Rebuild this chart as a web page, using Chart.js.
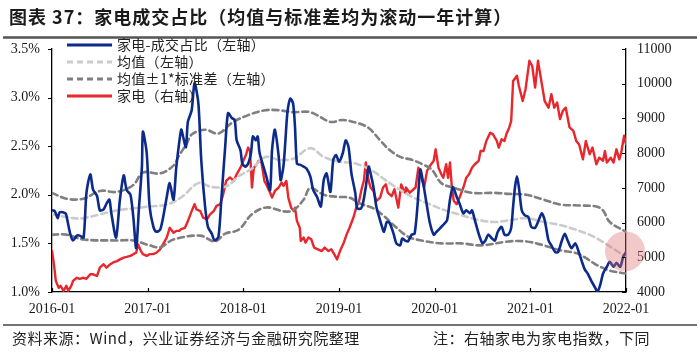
<!DOCTYPE html>
<html><head><meta charset="utf-8">
<script src="https://cdn.jsdelivr.net/npm/chart.js@4.4.1/dist/chart.umd.min.js"></script>
<style>html,body{margin:0;padding:0;background:#fff}canvas{display:block}</style>
</head><body>
<canvas id="c" width="700" height="355"></canvas>
<script>
const titleText = '图表 37：家电成交占比（均值与标准差均为滚动一年计算）';
const sourceText = '资料来源：Wind，兴业证券经济与金融研究院整理';
const noteText = '注：右轴家电为家电指数，下同';
const legendNames = ['家电-成交占比（左轴）', '均值（左轴）', '均值±1*标准差（左轴）', '家电（右轴）'];
const xTickLabels = ['2016-01','2017-01','2018-01','2019-01','2020-01','2021-01','2022-01'];

const shareX = [2016.01,2016.03,2016.06,2016.08,2016.14,2016.15,2016.19,2016.22,2016.26,2016.29,2016.33,2016.36,2016.40,2016.43,2016.47,2016.50,2016.54,2016.57,2016.60,2016.62,2016.67,2016.71,2016.75,2016.78,2016.82,2016.85,2016.88,2016.91,2016.94,2016.95,2016.99,2017.02,2017.06,2017.09,2017.13,2017.16,2017.20,2017.23,2017.27,2017.30,2017.35,2017.37,2017.40,2017.42,2017.46,2017.49,2017.53,2017.56,2017.60,2017.63,2017.67,2017.70,2017.74,2017.77,2017.81,2017.84,2017.88,2017.91,2017.93,2017.97,2017.99,2018.02,2018.05,2018.08,2018.10,2018.13,2018.15,2018.17,2018.21,2018.24,2018.28,2018.30,2018.33,2018.37,2018.39,2018.42,2018.44,2018.46,2018.49,2018.52,2018.54,2018.56,2018.59,2018.63,2018.66,2018.70,2018.73,2018.77,2018.81,2018.84,2018.87,2018.91,2018.94,2018.97,2019.00,2019.04,2019.07,2019.10,2019.13,2019.17,2019.19,2019.23,2019.25,2019.28,2019.31,2019.33,2019.36,2019.39,2019.42,2019.45,2019.47,2019.50,2019.53,2019.57,2019.60,2019.64,2019.66,2019.69,2019.72,2019.76,2019.79,2019.82,2019.85,2019.88,2019.92,2019.95,2019.99,2020.02,2020.06,2020.09,2020.13,2020.16,2020.19,2020.23,2020.26,2020.30,2020.33,2020.37,2020.39,2020.42,2020.46,2020.50,2020.53,2020.56,2020.60,2020.63,2020.66,2020.70,2020.73,2020.77,2020.80,2020.82,2020.84,2020.86,2020.88,2020.91,2020.94,2020.98,2021.01,2021.05,2021.08,2021.12,2021.15,2021.19,2021.22,2021.26,2021.29,2021.33,2021.36,2021.39,2021.43,2021.47,2021.50,2021.54,2021.57,2021.60,2021.64,2021.68,2021.70,2021.73,2021.76,2021.80,2021.83,2021.87,2021.90,2021.94,2021.97,2022.00];
const shareY = [1.84,1.83,1.76,1.82,1.81,1.79,1.60,1.53,1.58,1.58,1.56,2.02,2.21,2.05,1.99,1.84,1.85,1.91,1.95,1.81,1.56,1.95,2.20,2.05,2.00,1.77,1.45,1.88,2.29,2.65,2.43,1.88,1.67,1.62,1.64,1.76,1.98,2.12,1.95,2.29,2.67,2.60,2.49,2.75,2.87,3.15,2.94,2.36,1.88,1.67,1.60,1.53,1.57,1.95,2.49,2.84,2.79,2.77,2.56,2.46,2.32,2.29,2.32,2.43,2.60,2.56,2.60,2.43,2.29,2.19,2.05,2.46,2.67,2.39,2.15,2.30,2.56,2.84,2.99,2.94,2.70,2.32,2.31,2.29,2.27,2.19,2.05,1.98,1.88,2.15,2.22,2.03,2.36,2.41,2.34,2.43,2.56,2.49,2.22,2.02,1.86,1.86,1.91,2.08,2.29,2.22,2.08,1.88,1.77,1.67,1.62,1.72,1.71,1.60,1.50,1.48,1.55,1.53,1.52,1.59,1.60,1.88,2.26,2.12,1.88,1.71,1.59,1.62,1.66,1.69,1.74,1.95,2.08,1.98,1.91,1.81,1.84,1.81,1.84,1.74,1.60,1.50,1.53,1.59,1.55,1.53,1.62,1.67,1.59,1.59,1.66,1.88,2.08,2.19,2.08,1.84,1.79,1.77,1.67,1.66,1.72,1.81,1.74,1.53,1.48,1.41,1.41,1.53,1.60,1.53,1.45,1.50,1.43,1.31,1.23,1.19,1.11,1.04,1.00,1.07,1.19,1.26,1.31,1.26,1.30,1.26,1.36,1.41];

const meanX = [2016.00,2016.22,2016.33,2016.50,2016.68,2016.85,2017.02,2017.20,2017.36,2017.53,2017.67,2017.83,2017.95,2018.09,2018.23,2018.37,2018.52,2018.70,2018.84,2019.01,2019.18,2019.36,2019.53,2019.64,2019.76,2019.93,2020.11,2020.28,2020.46,2020.63,2020.79,2020.96,2021.14,2021.31,2021.48,2021.66,2021.83,2022.00];
const meanY = [1.80,1.76,1.76,1.80,1.84,1.86,1.88,1.90,1.98,2.12,2.08,2.09,2.19,2.27,2.39,2.36,2.37,2.48,2.39,2.34,2.32,2.24,2.12,2.05,1.98,1.91,1.84,1.79,1.74,1.72,1.74,1.76,1.72,1.69,1.64,1.57,1.47,1.36];

const upperX = [2016.00,2016.15,2016.33,2016.50,2016.68,2016.85,2016.95,2017.13,2017.27,2017.32,2017.41,2017.46,2017.60,2017.74,2017.88,2018.05,2018.23,2018.37,2018.52,2018.70,2018.91,2019.04,2019.22,2019.32,2019.43,2019.53,2019.64,2019.76,2019.86,2019.97,2020.07,2020.21,2020.39,2020.63,2020.77,2020.96,2021.14,2021.31,2021.52,2021.69,2021.76,2021.83,2022.00];
const upperY = [2.02,1.96,1.96,2.04,2.03,2.10,2.23,2.22,2.30,2.39,2.53,2.62,2.67,2.63,2.74,2.82,2.87,2.87,2.85,2.85,2.75,2.77,2.73,2.68,2.56,2.46,2.39,2.36,2.32,2.26,2.12,2.07,2.02,2.02,2.01,2.00,1.95,1.90,1.89,1.88,1.84,1.72,1.62];

const lowerX = [2016.00,2016.15,2016.33,2016.68,2016.85,2017.02,2017.13,2017.27,2017.55,2017.70,2017.81,2017.95,2018.09,2018.24,2018.42,2018.52,2018.63,2018.70,2018.84,2018.98,2019.11,2019.22,2019.36,2019.46,2019.57,2019.72,2019.86,2020.07,2020.28,2020.49,2020.77,2020.96,2021.14,2021.31,2021.48,2021.58,2021.69,2021.83,2022.00];
const lowerY = [1.59,1.59,1.54,1.53,1.53,1.48,1.46,1.54,1.58,1.52,1.60,1.64,1.80,1.87,1.83,1.84,1.95,2.07,2.00,1.98,1.97,1.91,1.86,1.79,1.69,1.57,1.53,1.50,1.50,1.48,1.52,1.52,1.48,1.43,1.40,1.35,1.28,1.22,1.19];

const indexX = [2016.00,2016.02,2016.04,2016.07,2016.09,2016.12,2016.15,2016.17,2016.20,2016.22,2016.26,2016.29,2016.33,2016.36,2016.40,2016.43,2016.47,2016.50,2016.54,2016.57,2016.61,2016.64,2016.68,2016.71,2016.75,2016.78,2016.82,2016.85,2016.88,2016.90,2016.93,2016.95,2016.99,2017.02,2017.06,2017.09,2017.13,2017.16,2017.20,2017.23,2017.27,2017.30,2017.33,2017.35,2017.39,2017.42,2017.46,2017.49,2017.51,2017.55,2017.58,2017.62,2017.65,2017.69,2017.72,2017.76,2017.79,2017.82,2017.86,2017.90,2017.93,2017.97,2018.00,2018.03,2018.05,2018.07,2018.09,2018.11,2018.14,2018.16,2018.19,2018.22,2018.24,2018.28,2018.30,2018.33,2018.37,2018.40,2018.42,2018.45,2018.47,2018.50,2018.53,2018.54,2018.56,2018.59,2018.60,2018.63,2018.65,2018.68,2018.71,2018.74,2018.78,2018.82,2018.85,2018.89,2018.92,2018.96,2018.98,2019.01,2019.05,2019.08,2019.11,2019.15,2019.18,2019.21,2019.24,2019.26,2019.28,2019.31,2019.33,2019.36,2019.39,2019.43,2019.46,2019.49,2019.51,2019.55,2019.58,2019.62,2019.65,2019.69,2019.70,2019.74,2019.78,2019.80,2019.83,2019.86,2019.89,2019.92,2019.95,2019.99,2020.01,2020.04,2020.07,2020.09,2020.12,2020.14,2020.16,2020.18,2020.20,2020.23,2020.26,2020.30,2020.33,2020.36,2020.39,2020.42,2020.46,2020.48,2020.51,2020.54,2020.58,2020.61,2020.65,2020.67,2020.70,2020.73,2020.75,2020.78,2020.80,2020.82,2020.86,2020.88,2020.92,2020.95,2020.99,2021.02,2021.05,2021.08,2021.12,2021.15,2021.19,2021.22,2021.25,2021.28,2021.31,2021.34,2021.37,2021.41,2021.45,2021.48,2021.51,2021.55,2021.58,2021.62,2021.65,2021.69,2021.72,2021.76,2021.78,2021.80,2021.84,2021.87,2021.90,2021.93,2021.95,2021.98,2022.00];
const indexY = [5180,4800,4320,4120,4180,4030,4180,4030,4170,4320,4410,4380,4410,4380,4510,4510,4460,4700,4800,4700,4800,4850,4890,4940,4990,5010,5040,5090,5130,5370,5180,5090,5040,5090,5090,5130,5230,5370,5570,5850,5710,5760,5760,5810,5850,6040,6330,6530,6380,6330,6140,6090,6230,6330,6480,6530,6820,7200,7300,7200,7390,7580,7780,7970,8160,8060,7010,7580,7680,7780,7730,7200,7100,6860,6720,6910,7010,7150,7060,7200,6720,6430,6330,6430,6050,5850,5470,5570,5420,5570,5520,5280,5230,5180,5280,5180,5230,5040,4940,5180,5420,5660,5850,6140,6430,6620,7010,7200,7730,7200,7010,6910,6620,6720,7010,7100,6860,6760,6960,6430,7100,6860,7010,6860,6960,7010,7580,7300,7010,7490,7630,7780,8110,7580,7390,7290,7680,7290,7730,7010,6620,6530,6720,7010,7290,7390,7580,7680,7780,8060,8060,8350,8590,8540,8350,8160,8400,8350,8550,8740,8930,10080,10230,9940,9500,9840,10660,10510,9890,10660,9990,9500,9310,9700,9310,9460,8980,9220,9310,8740,8640,8350,8250,7820,8350,7970,8160,7680,7870,7780,8060,7730,7870,7730,8110,7820,8010,8500,8260];

const highlight = {x: 2022.0, y: 1.42};

function pts(xs, ys){ return xs.map((x,i)=>({x:x, y:ys[i]})); }

const BLUE = '#0b2a8c', RED = '#e8262b', LGRAY = '#cbcbcb', DGRAY = '#7f7f7f';
const SERIF = '"Liberation Serif", "Times New Roman", serif';
const CJK = '"Noto Sans CJK SC", "Noto Sans", sans-serif';

const decor = {
  id: 'decor',
  afterDraw(chart){
    const ctx = chart.ctx;
    ctx.save();
    // title
    ctx.fillStyle = '#1a1a1a';
    ctx.font = 'bold 18px ' + CJK;
    ctx.textBaseline = 'middle'; ctx.textAlign = 'left';
    ctx.letterSpacing = '1px';
    ctx.fillText(titleText, 9, 17);
    ctx.letterSpacing = '0px';
    ctx.strokeStyle = '#555'; ctx.lineWidth = 2.5;
    ctx.beginPath(); ctx.moveTo(3, 37.5); ctx.lineTo(697, 37.5); ctx.stroke();
    // footer
    ctx.strokeStyle = '#444'; ctx.lineWidth = 1.5;
    ctx.beginPath(); ctx.moveTo(3, 325); ctx.lineTo(697, 325); ctx.stroke();
    ctx.fillStyle = '#222'; ctx.font = '15px ' + CJK;
    ctx.letterSpacing = '0.5px';
    ctx.fillText(sourceText, 12, 338);
    ctx.fillText(noteText, 433, 338);
    ctx.letterSpacing = '0px';
    // custom tick marks
    const xs = chart.scales.x, yl = chart.scales.y, yr = chart.scales.y2;
    ctx.strokeStyle = '#000'; ctx.lineWidth = 1.2;
    ctx.beginPath();
    xs.ticks.forEach(t=>{ const px = Math.round(xs.getPixelForValue(t.value))+0.5; ctx.moveTo(px, xs.top); ctx.lineTo(px, xs.top-4); });
    yl.ticks.forEach(t=>{ const py = Math.round(yl.getPixelForValue(t.value))+0.5; ctx.moveTo(yl.right, py); ctx.lineTo(yl.right-4, py); });
    yr.ticks.forEach(t=>{ const py = Math.round(yr.getPixelForValue(t.value))+0.5; ctx.moveTo(yr.left, py); ctx.lineTo(yr.left-4, py); });
    ctx.stroke();
    // legend
    const rows = [
      {c: BLUE, dash: [], w: 2.8},
      {c: LGRAY, dash: [6,4], w: 2.8},
      {c: DGRAY, dash: [6,4], w: 2.8},
      {c: RED, dash: [], w: 2.8}
    ];
    const ys = [45, 62, 79, 96];
    ctx.font = '14px ' + CJK; ctx.fillStyle = '#222';
    ctx.letterSpacing = '0.3px';
    rows.forEach((r,i)=>{
      ctx.strokeStyle = r.c; ctx.lineWidth = r.w; ctx.setLineDash(r.dash);
      ctx.beginPath(); ctx.moveTo(67, ys[i]); ctx.lineTo(112, ys[i]); ctx.stroke();
      ctx.setLineDash([]);
      ctx.fillText(legendNames[i], 117, ys[i]);
    });
    ctx.letterSpacing = '0px';
    ctx.restore();
  },
  afterDatasetsDraw(chart){
    const ctx = chart.ctx;
    const cx = chart.scales.x.getPixelForValue(highlight.x) - 1;
    const cy = chart.scales.y.getPixelForValue(highlight.y);
    ctx.save();
    ctx.fillStyle = 'rgba(222,110,110,0.38)';
    ctx.beginPath(); ctx.arc(cx, cy, 20, 0, Math.PI*2); ctx.fill();
    ctx.restore();
  }
};

new Chart(document.getElementById('c'), {
  type: 'line',
  data: {
    datasets: [
      {label: legendNames[0], data: pts(shareX, shareY), borderColor: BLUE, borderWidth: 2.6, tension: 0.25, yAxisID: 'y', order: 0},
      {label: legendNames[1], data: pts(meanX, meanY), borderColor: LGRAY, borderWidth: 2.6, borderDash: [6,4], tension: 0.35, yAxisID: 'y', order: 2},
      {label: legendNames[2], data: pts(upperX, upperY), borderColor: DGRAY, borderWidth: 2.6, borderDash: [6,4], tension: 0.35, yAxisID: 'y', order: 1},
      {label: legendNames[2], data: pts(lowerX, lowerY), borderColor: DGRAY, borderWidth: 2.6, borderDash: [6,4], tension: 0.35, yAxisID: 'y', order: 1},
      {label: legendNames[3], data: pts(indexX, indexY), borderColor: RED, borderWidth: 2.4, tension: 0, yAxisID: 'y2', order: 3}
    ]
  },
  options: {
    responsive: false, animation: false,
    layout: {padding: {top: 49, left: 0, right: 0, bottom: 0}},
    elements: {point: {radius: 0}, line: {borderCapStyle: 'round', borderJoinStyle: 'round'}},
    plugins: {legend: {display: false}, tooltip: {enabled: false}},
    scales: {
      x: {
        type: 'linear', min: 2016, max: 2022,
        afterFit(s){ s.height = 63; },
        ticks: {stepSize: 1, autoSkip: false, maxRotation: 0, padding: 9, color: '#1a1a1a',
          font: {family: SERIF, size: 14},
          callback: (v)=> xTickLabels[Math.round(v-2016)]},
        grid: {display: true, drawOnChartArea: false, drawTicks: false},
        border: {display: true, color: '#000', width: 1.3}
      },
      y: {
        type: 'linear', position: 'left', min: 1.0, max: 3.5,
        afterFit(s){ s.width = 52; },
        ticks: {stepSize: 0.5, padding: 12, color: '#1a1a1a', font: {family: SERIF, size: 14},
          callback: (v)=> v.toFixed(1) + '%'},
        grid: {display: true, drawOnChartArea: false, drawTicks: false},
        border: {display: true, color: '#000', width: 1.3}
      },
      y2: {
        type: 'linear', position: 'right', min: 4000, max: 11000,
        afterFit(s){ s.width = 74; },
        ticks: {stepSize: 1000, padding: 11, color: '#1a1a1a', font: {family: SERIF, size: 14},
          callback: (v)=> String(v)},
        grid: {display: true, drawOnChartArea: false, drawTicks: false},
        border: {display: true, color: '#000', width: 1.3}
      }
    }
  },
  plugins: [decor]
});
</script>
</body></html>
